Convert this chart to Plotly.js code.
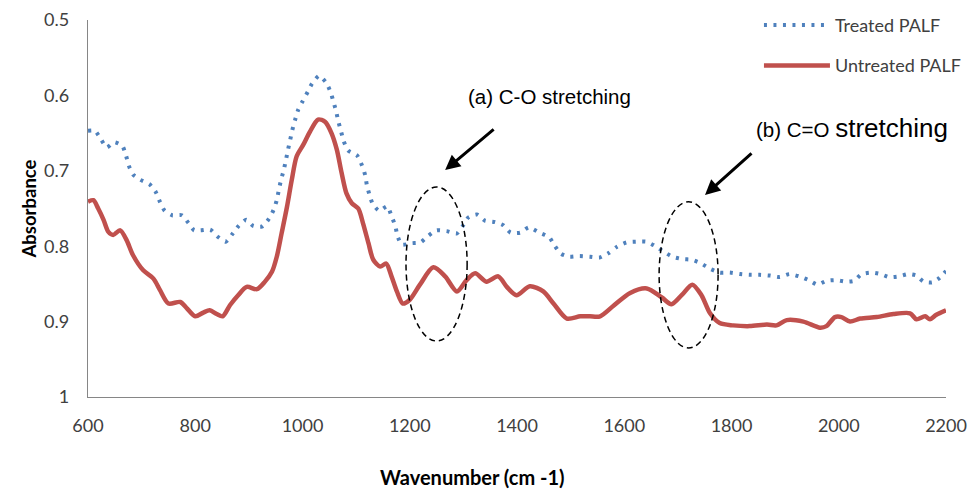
<!DOCTYPE html>
<html>
<head>
<meta charset="utf-8">
<script src="https://cdn.plot.ly/plotly-3.0.1.min.js"></script>
<style>html,body{margin:0;padding:0;background:#fff}#chart{width:977px;height:491px}</style>
</head>
<body>
<div id="chart"></div>
<script>
var treatedX = [600,613,624,635,649,664,671,676,684,698,715,727,734,743,757,775,787,798,810,828,841,857,869,881,895,908,924,937,946,952,956,960,965,969,973,977,981,986,992,1000,1010,1018,1031,1044,1052,1058,1063,1067,1072,1077,1085,1102,1111,1117,1120,1125,1131,1143,1158,1166,1173,1177,1185,1204,1220,1235,1250,1269,1288,1299,1309,1325,1340,1359,1374,1388,1406,1422,1442,1460,1470,1482,1498,1517,1536,1554,1571,1586,1604,1622,1641,1658,1673,1690,1708,1726,1744,1760,1778,1797,1816,1834,1853,1872,1890,1908,1926,1944,1960,1977,1995,2013,2028,2043,2061,2078,2094,2112,2130,2145,2158,2174,2188,2200];
var treatedY = [0.647,0.647,0.658,0.669,0.662,0.667,0.680,0.693,0.705,0.712,0.718,0.729,0.741,0.753,0.759,0.759,0.769,0.779,0.779,0.778,0.787,0.794,0.784,0.773,0.765,0.773,0.774,0.764,0.752,0.739,0.725,0.712,0.699,0.686,0.672,0.659,0.646,0.633,0.619,0.608,0.595,0.584,0.574,0.583,0.595,0.609,0.622,0.635,0.648,0.661,0.673,0.680,0.693,0.706,0.719,0.732,0.744,0.753,0.747,0.760,0.773,0.786,0.798,0.796,0.795,0.786,0.779,0.780,0.783,0.773,0.762,0.758,0.766,0.768,0.772,0.782,0.782,0.775,0.782,0.788,0.799,0.810,0.814,0.813,0.814,0.815,0.809,0.801,0.795,0.794,0.794,0.800,0.807,0.814,0.817,0.818,0.823,0.830,0.835,0.835,0.837,0.838,0.838,0.839,0.841,0.837,0.840,0.845,0.851,0.846,0.845,0.847,0.846,0.837,0.835,0.837,0.841,0.840,0.837,0.839,0.847,0.848,0.842,0.833];

var untreatedX = [600,610,619,629,638,647,660,672,684,703,722,734,750,772,784,800,815,827,840,851,865,880,896,915,930,943,952,961,971,980,989,1001,1014,1029,1042,1054,1064,1073,1082,1092,1104,1113,1123,1132,1145,1156,1166,1176,1187,1200,1219,1244,1266,1288,1306,1322,1343,1365,1381,1399,1424,1449,1468,1493,1518,1536,1555,1580,1611,1642,1670,1688,1707,1727,1744,1760,1778,1803,1834,1866,1884,1903,1934,1965,1977,1993,2005,2021,2040,2071,2102,2133,2145,2161,2170,2182,2200];
var untreatedY = [0.741,0.739,0.750,0.765,0.781,0.785,0.779,0.792,0.812,0.832,0.843,0.858,0.876,0.874,0.882,0.893,0.888,0.885,0.890,0.893,0.878,0.865,0.854,0.857,0.847,0.834,0.814,0.783,0.748,0.712,0.681,0.666,0.648,0.632,0.635,0.650,0.672,0.703,0.730,0.743,0.750,0.770,0.796,0.818,0.827,0.823,0.840,0.860,0.876,0.871,0.851,0.828,0.840,0.860,0.845,0.836,0.847,0.840,0.854,0.865,0.853,0.860,0.876,0.896,0.893,0.893,0.893,0.879,0.862,0.856,0.868,0.877,0.865,0.851,0.865,0.889,0.902,0.905,0.906,0.904,0.905,0.898,0.900,0.908,0.906,0.894,0.894,0.900,0.896,0.894,0.890,0.889,0.897,0.893,0.897,0.891,0.885];

var seriesNames = ['Treated PALF', 'Untreated PALF'];
var xTicks = [600,800,1000,1200,1400,1600,1800,2000,2200];
var yTicks = [0.5,0.6,0.7,0.8,0.9,1];
var yTickLabels = ['0.5','0.6','0.7','0.8','0.9','1'];

var tickFont = {family: 'Lato, sans-serif', size: 18, color: '#404040'};
var annFont = {family: 'Liberation Sans, Arial, sans-serif', size: 20.5, color: '#000'};

var traces = [
  {x: treatedX, y: treatedY, name: seriesNames[0], type: 'scatter', mode: 'lines',
   line: {color: '#4F81BD', width: 4, dash: '3px,6.5px', shape: 'spline', smoothing: 0.6},
   legendgroup: 'a'},
  {x: untreatedX, y: untreatedY, name: seriesNames[1], type: 'scatter', mode: 'lines',
   line: {color: '#C0504D', width: 4.5, shape: 'spline', smoothing: 0.8},
   legendgroup: 'b'}
];

var layout = {
  width: 977, height: 491,
  margin: {l: 88, r: 31, t: 20, b: 94, autoexpand: false},
  paper_bgcolor: '#fff', plot_bgcolor: '#fff',
  showlegend: true,
  legend: {x: 0.782, y: 1.035, xanchor: 'left', yanchor: 'top', bgcolor: 'rgba(0,0,0,0)',
           font: {family: 'Lato, sans-serif', size: 18, color: '#404040'},
           tracegroupgap: 14, itemwidth: 66},
  xaxis: {range: [600, 2200], tickvals: xTicks, ticktext: xTicks.map(String),
          showgrid: false, zeroline: false, showline: true, linecolor: '#868686', linewidth: 1.2,
          ticks: '', tickfont: tickFont, ticklabelstandoff: 12, automargin: false},
  yaxis: {range: [1, 0.5], tickvals: yTicks, ticktext: yTickLabels,
          showgrid: false, zeroline: false, showline: true, linecolor: '#868686', linewidth: 1.2,
          ticks: '', tickfont: tickFont, ticklabelstandoff: 14, automargin: false,
          title: {text: '<b>Absorbance</b>', font: {family: 'Lato, sans-serif', size: 18.5, color: '#000'}, standoff: 2}},
  shapes: [
    {type: 'circle', xref: 'x', yref: 'y', x0: 1193, x1: 1307, y0: 0.7215, y1: 0.9257,
     line: {color: '#000', width: 1.5, dash: '6px,4px'}},
    {type: 'circle', xref: 'x', yref: 'y', x0: 1665, x1: 1775, y0: 0.741, y1: 0.935,
     line: {color: '#000', width: 1.5, dash: '6px,4px'}}
  ],
  annotations: [
    {xref: 'paper', yref: 'paper', x: (472 - 88) / 858, y: (397 - 477) / 377, xanchor: 'center', yanchor: 'middle',
     showarrow: false, text: '<b>Wavenumber (cm -1)</b>', font: {family: 'Lato, sans-serif', size: 20, color: '#000'}},
    {x: 1460, y: 0.6008, xref: 'x', yref: 'y', showarrow: false, text: '(a) C-O stretching', font: annFont},
    {x: 2024, y: 0.643, xref: 'x', yref: 'y', showarrow: false,
     text: '(b) C=O <span style="font-size:26px">stretching</span>', font: annFont},
    {x: 1266, y: 0.699, xref: 'x', yref: 'y', ax: 50, ay: -42, showarrow: true, text: '',
     arrowhead: 2, arrowsize: 1, arrowwidth: 3, arrowcolor: '#000'},
    {x: 1750.6, y: 0.732, xref: 'x', yref: 'y', ax: 48, ay: -43, showarrow: true, text: '',
     arrowhead: 2, arrowsize: 1, arrowwidth: 3, arrowcolor: '#000'}
  ]
};

Plotly.newPlot('chart', traces, layout, {staticPlot: true, displayModeBar: false});
</script>
</body>
</html>
